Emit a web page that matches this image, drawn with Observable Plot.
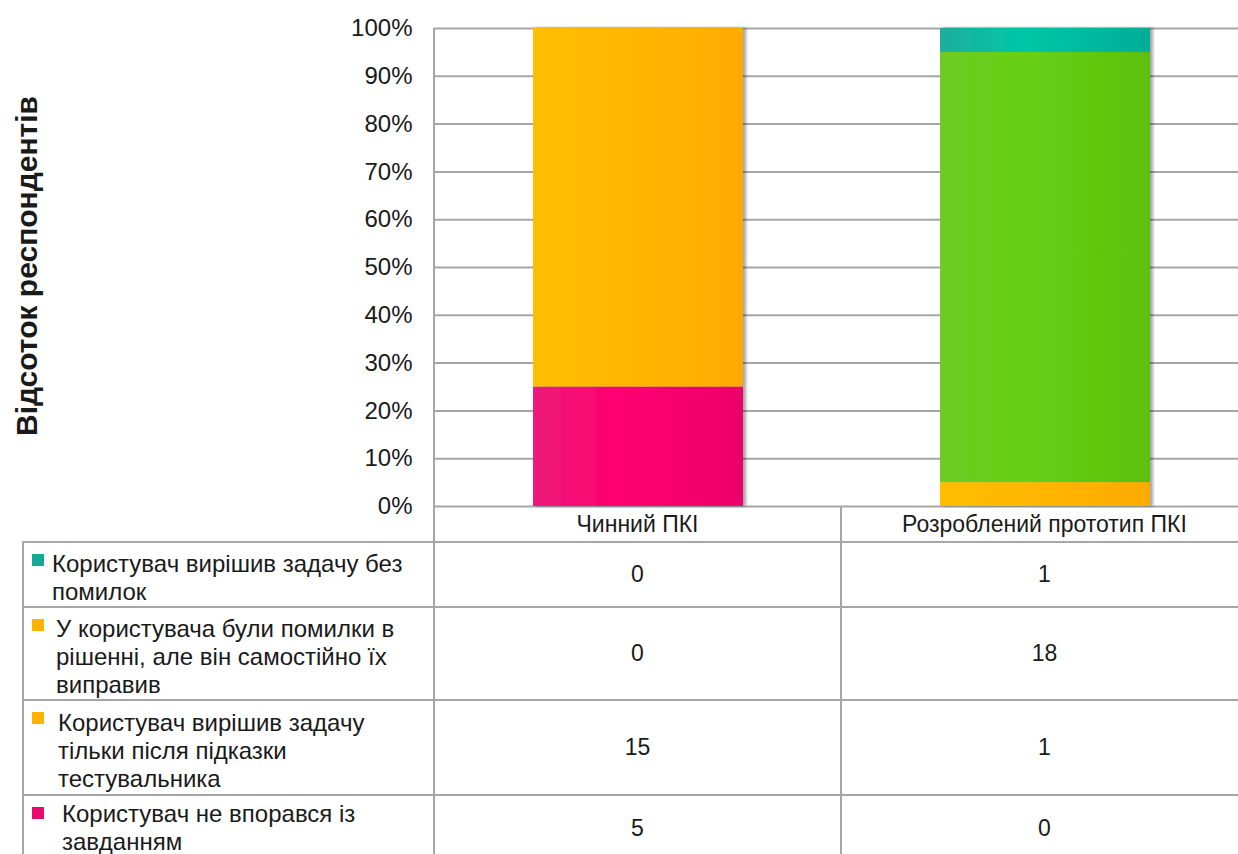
<!DOCTYPE html>
<html>
<head>
<meta charset="utf-8">
<script src="https://cdn.jsdelivr.net/npm/d3@7"></script>
<script src="https://cdn.jsdelivr.net/npm/@observablehq/plot@0.6"></script>
<style>
  html, body { margin: 0; padding: 0; background: #fff; }
  #chart {
    position: relative; width: 1238px; height: 854px; overflow: hidden;
    font-family: "Liberation Sans", Arial, sans-serif; color: #1a1a1a;
  }
  #chart svg { position: absolute; left: 0; top: 0; }
  .ytitle {
    position: absolute; left: 27px; top: 266px; white-space: nowrap;
    font-weight: bold; font-size: 30px; transform: translate(-50%, -50%) rotate(-90deg);
  }
  .hline, .vline { position: absolute; background: #a6a6a6; }
  .hline { height: 2px; }
  .vline { width: 2px; }
  .cat, .val {
    position: absolute; display: flex; align-items: center; justify-content: center;
    font-size: 23px; white-space: nowrap;
  }
  .lab {
    position: absolute; display: flex; align-items: center;
    font-size: 24px; line-height: 28px; white-space: nowrap;
  }
  .sw { position: absolute; width: 12px; height: 12px; }
</style>
</head>
<body>
<div id="chart"></div>
<script>
// Categories (columns) and respondent counts per outcome
const categories = ["Чинний ПКІ", "Розроблений прототип ПКІ"];

const seriesNoErrors = "Користувач вирішив задачу без помилок";
const seriesFixed = "У користувача були помилки в рішенні, але він самостійно їх виправив";
const seriesAfterHint = "Користувач вирішив задачу тільки після підказки тестувальника";
const seriesFailed = "Користувач не впорався із завданням";

const noErrors = [0, 1];
const fixedErrors = [0, 18];
const afterHint = [15, 1];
const failed = [5, 0];

// Label lines as they wrap in the table
const noErrorsLines = ["Користувач вирішив задачу без", "помилок"];
const fixedLines = ["У користувача були помилки в", "рішенні, але він самостійно їх", "виправив"];
const afterHintLines = ["Користувач вирішив задачу", "тільки після підказки", "тестувальника"];
const failedLines = ["Користувач не впорався із", "завданням"];

const yTicks = [0, 0.1, 0.2, 0.3, 0.4, 0.5, 0.6, 0.7, 0.8, 0.9, 1];
const yTitle = "Відсоток респондентів";

// Stack from the bottom up
const stackSeries = [
  {name: seriesFailed, values: failed},
  {name: seriesAfterHint, values: afterHint},
  {name: seriesFixed, values: fixedErrors},
  {name: seriesNoErrors, values: noErrors}
];
const rows = stackSeries.flatMap(s =>
  categories.map((c, i) => ({category: c, series: s.name, count: s.values[i]}))
);

// Table rows, top to bottom
const tableRows = [
  {lines: noErrorsLines, values: noErrors, swatch: "#14a996", indent: 52, shift: 0},
  {lines: fixedLines, values: fixedErrors, swatch: "#ffb300", indent: 56, shift: 0},
  {lines: afterHintLines, values: afterHint, swatch: "#ffb300", indent: 58, shift: 0},
  {lines: failedLines, values: failed, swatch: "#ea0a6c", indent: 62, shift: -3}
];

const gradients = {
  gPink: ["#ec1a7a", "#ff0070", "#ec006a"],
  gOrange: ["#ffbe00", "#ffb800", "#ffaa00"],
  gGreen: ["#6dcb25", "#66d014", "#5cc00e"],
  gTeal: ["#1cae9c", "#00c6a6", "#00ad96"]
};

const plot = Plot.plot({
  width: 1238,
  height: 542,
  marginLeft: 434,
  marginRight: 0,
  marginTop: 28,
  marginBottom: 36,
  x: {domain: categories, range: [434, 1248], padding: 0, axis: null},
  y: {domain: [0, 1], ticks: 10, tickFormat: d3.format(".0%"), tickSize: 0, tickPadding: 22, label: null},
  color: {
    domain: [seriesFailed, seriesAfterHint, seriesFixed, seriesNoErrors],
    range: ["url(#gPink)", "url(#gOrange)", "url(#gGreen)", "url(#gTeal)"]
  },
  style: {fontFamily: "Liberation Sans, Arial, sans-serif", fontSize: "24px", color: "#1a1a1a", background: "transparent"},
  marks: [
    Plot.ruleY(yTicks, {stroke: "#a6a6a6", strokeWidth: 2}),
    Plot.barY(rows, Plot.stackY({offset: "normalize"}, {
      x: "category", y: "count", fill: "series", insetLeft: 99, insetRight: 98
    }))
  ]
});

const svg = d3.select(plot);
const defs = svg.insert("defs", ":first-child");
for (const [id, stops] of Object.entries(gradients)) {
  const g = defs.append("linearGradient").attr("id", id).attr("x1", 0).attr("x2", 1).attr("y1", 0).attr("y2", 0);
  g.append("stop").attr("offset", "0%").attr("stop-color", stops[0]);
  g.append("stop").attr("offset", "40%").attr("stop-color", stops[1]);
  g.append("stop").attr("offset", "100%").attr("stop-color", stops[2]);
}
const f = defs.append("filter").attr("id", "barShadow").attr("x", "-10%").attr("y", "-10%").attr("width", "130%").attr("height", "120%");
f.append("feDropShadow").attr("dx", 3).attr("dy", 0).attr("stdDeviation", 1.6)
  .attr("flood-color", "#000").attr("flood-opacity", 0.35);
svg.selectAll("g[aria-label='bar']").attr("filter", "url(#barShadow)");

const chart = document.getElementById("chart");
chart.appendChild(plot);

const title = document.createElement("div");
title.className = "ytitle";
title.textContent = yTitle;
chart.appendChild(title);

function line(cls, style) {
  const d = document.createElement("div");
  d.className = cls;
  Object.assign(d.style, style);
  chart.appendChild(d);
  return d;
}

// Table geometry
const colEdges = [434, 841, 1248];
const rowEdges = [542, 607, 700, 795, 860];
const catTop = 506;

// grid of the data table
line("vline", {left: "433px", top: "28px", height: "840px"});
line("vline", {left: "840px", top: catTop + "px", height: "360px"});
line("vline", {left: "22px", top: "542px", height: "320px"});
rowEdges.slice(0, 4).forEach(y => line("hline", {left: "22px", top: (y - 1) + "px", width: "1220px"}));

// category header
categories.forEach((c, i) => {
  const d = line("cat", {
    left: colEdges[i] + "px", width: (colEdges[i + 1] - colEdges[i]) + "px",
    top: (catTop + 1) + "px", height: (rowEdges[0] - catTop - 2) + "px"
  });
  d.textContent = c;
});

// body rows
tableRows.forEach((r, k) => {
  const top = rowEdges[k], h = rowEdges[k + 1] - rowEdges[k];
  const lab = line("lab", {left: r.indent + "px", top: (top + 3 + r.shift) + "px", height: h + "px"});
  lab.innerHTML = "<div>" + r.lines.join("<br>") + "</div>";
  const sw = line("sw", {left: "32px", top: (top + 12) + "px"});
  sw.style.background = r.swatch;
  r.values.forEach((v, i) => {
    const d = line("val", {
      left: colEdges[i] + "px", width: (colEdges[i + 1] - colEdges[i]) + "px",
      top: (top + 1) + "px", height: (h - (k === 3 ? 0 : 2)) + "px"
    });
    d.textContent = String(v);
  });
});
</script>
</body>
</html>
